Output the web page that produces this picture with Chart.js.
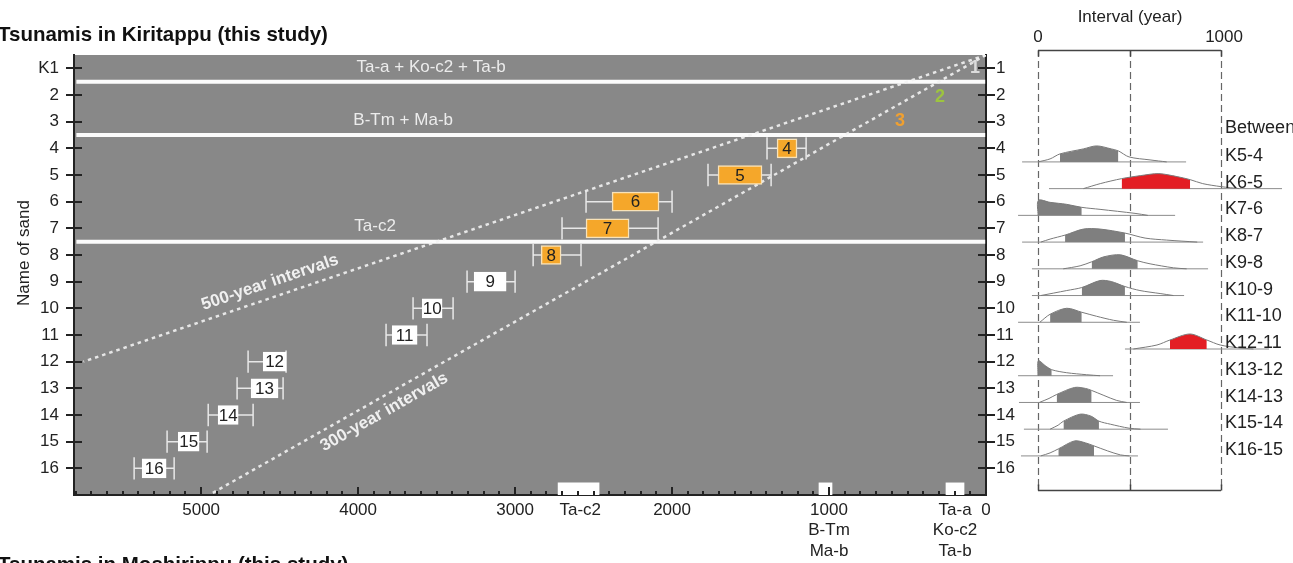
<!DOCTYPE html>
<html>
<head>
<meta charset="utf-8">
<script src="https://cdn.jsdelivr.net/npm/chart.js@4.4.1/dist/chart.umd.min.js"></script>
<style>
  html, body { margin: 0; padding: 0; background: #fff; overflow: hidden; }
  #wrap { position: relative; width: 1293px; height: 563px; }
  #main { position: absolute; left: 0; top: 0; }
  #interval { position: absolute; left: 1010px; top: 0; }
</style>
</head>
<body>
<div id="wrap">
  <canvas id="main" width="1020" height="563"></canvas>
  <canvas id="interval" width="283" height="563"></canvas>
</div>
<script>
// ---- data: sand layers (age, years before present) ----
const sandRows = [1, 2, 3, 4, 5, 6, 7, 8, 9, 10, 11, 12, 13, 14, 15, 16];
const sandLabels = ["K1", "2", "3", "4", "5", "6", "7", "8", "9", "10", "11", "12", "13", "14", "15", "16"];

const boxRows = [4, 5, 6, 7, 8, 9, 10, 11, 12, 13, 14, 15, 16];
const boxOlder = [1331, 1707, 2382, 2548, 2834, 3261, 3592, 3783, 4605, 4682, 4892, 5146, 5376];
const boxYounger = [1204, 1427, 2083, 2274, 2707, 3057, 3465, 3624, 4459, 4510, 4764, 5013, 5223];
const whiskerOlder = [1395, 1771, 2548, 2701, 2885, 3306, 3650, 3822, 4701, 4771, 4955, 5217, 5427];
const whiskerYounger = [1146, 1369, 2000, 2089, 2580, 3000, 3395, 3561, 4459, 4478, 4669, 4962, 5172];
const boxDated = [true, true, true, true, true, false, false, false, false, false, false, false, false];

// tephra layers
const tephraNames = ["Ta-c2", "B-Tm", "Ta-a"];
const tephraOlder = [2726, 1064, 255];
const tephraYounger = [2465, 981, 140];
const tephraLevels = [1.5, 3.5, 7.5];

// x axis tick labels
const xTickValues = [5000, 4000, 3000, 2585, 2000, 1000, 197, 0];
const xTickLabels = ["5000", "4000", "3000", "Ta-c2", "2000", ["1000", "B-Tm", "Ma-b"], ["Ta-a", "Ko-c2", "Ta-b"], "0"];

// reference recurrence lines
const line500 = [[0, 0.5], [5750, 12.0]];
const line300 = [[0, 0.5], [4941, 16.97]];

// ---- data: interval distributions ----
const intervalNames = ["K5-4", "K6-5", "K7-6", "K8-7", "K9-8", "K10-9", "K11-10", "K12-11", "K13-12", "K14-13", "K15-14", "K16-15"];
const intervalRows = [4.5, 5.5, 6.5, 7.5, 8.5, 9.5, 10.5, 11.5, 12.5, 13.5, 14.5, 15.5];
const intervalCurves = [
  [[0, 0], [66, 3], [120, 8], [248, 13], [320, 16], [400, 13], [439, 11], [497, 5], [612, 2], [703, 0]],
  [[248, 0], [340, 5], [457, 10], [560, 13], [660, 15], [760, 12], [831, 9], [900, 5], [1000, 2], [1100, 0]],
  [[0, 0], [2, 15], [66, 13], [157, 11], [239, 8], [339, 6], [530, 2], [600, 0]],
  [[15, 0], [66, 3], [148, 7], [248, 13], [339, 13], [475, 9], [585, 4], [703, 2], [870, 0]],
  [[138, 0], [230, 3], [293, 7], [360, 12], [450, 14], [545, 8], [612, 5], [740, 1], [812, 0]],
  [[15, 0], [157, 5], [239, 8], [339, 15], [400, 14], [475, 9], [557, 5], [667, 2], [740, 0]],
  [[10, 0], [66, 8], [157, 14], [239, 10], [320, 6], [412, 2], [485, 0]],
  [[521, 0], [650, 4], [721, 9], [830, 15], [922, 9], [995, 4], [1104, 1], [1177, 0]],
  [[0, 0], [2, 15], [40, 10], [75, 6], [157, 3], [266, 1], [339, 0]],
  [[7, 0], [60, 4], [102, 8], [200, 15], [260, 14], [293, 12], [360, 7], [430, 2], [485, 0]],
  [[66, 0], [110, 4], [139, 8], [230, 15], [290, 13], [333, 8], [395, 5], [497, 1], [560, 0]],
  [[15, 0], [66, 3], [111, 7], [200, 15], [260, 13], [306, 10], [380, 5], [450, 1], [500, 0]]
];
const intervalShade = [[120, 439], [457, 831], [0, 239], [148, 475], [293, 545], [239, 475], [66, 239], [721, 922], [0, 75], [102, 293], [139, 333], [111, 306]];
const intervalBase = [[-87, 809], [60, 1333], [-109, 749], [-87, 902], [-33, 929], [-33, 798], [-109, 557], [475, 1262], [-109, 410], [-104, 557], [-77, 710], [-93, 546]];
const intervalLong = [false, true, false, false, false, false, false, true, false, false, false, false];

const FONT = "'Liberation Sans', Arial, Helvetica, sans-serif";
Chart.defaults.font.family = FONT;

// ---- main chart ----
const capHalf = 0.42;
const whiskerPts = [];
boxRows.forEach(function (r, i) {
  const a = whiskerOlder[i], b = whiskerYounger[i];
  whiskerPts.push({ x: a, y: r - capHalf }, { x: a, y: r + capHalf }, { x: a, y: null });
  whiskerPts.push({ x: a, y: r }, { x: b, y: r }, { x: b, y: null });
  whiskerPts.push({ x: b, y: r - capHalf }, { x: b, y: r + capHalf }, { x: b, y: null });
});

const levelPts = [];
tephraLevels.forEach(function (lv) {
  levelPts.push({ x: 5795, y: lv }, { x: 5, y: lv }, { x: 5, y: null });
});

const mainDecor = {
  id: "mainDecor",
  beforeDraw(chart) {
    const a = chart.chartArea, ctx = chart.ctx;
    ctx.save();
    ctx.fillStyle = "#888888";
    ctx.fillRect(a.left, a.top, a.right - a.left, a.bottom - a.top);
    ctx.restore();
  },
  afterDatasetsDraw(chart) {
    const ctx = chart.ctx, xs = chart.scales.x, ys = chart.scales.y;
    ctx.save();
    ctx.textAlign = "center";
    ctx.textBaseline = "middle";

    // numbers in boxes
    ctx.font = "17px " + FONT;
    ctx.fillStyle = "#222";
    boxRows.forEach(function (r, i) {
      const cx = xs.getPixelForValue((boxOlder[i] + boxYounger[i]) / 2);
      ctx.fillText(String(r), cx, ys.getPixelForValue(r) + 1);
    });

    // tephra names in the plot
    ctx.font = "17px " + FONT;
    ctx.fillStyle = "#ececec";
    [["Ta-a + Ko-c2 + Ta-b", 3535, 0.97], ["B-Tm + Ma-b", 3713, 2.96], ["Ta-c2", 3892, 6.93]].forEach(function (t) {
      ctx.fillText(t[0], xs.getPixelForValue(t[1]), ys.getPixelForValue(t[2]));
    });

    // K1-K3 markers
    ctx.font = "bold 18px " + FONT;
    [["1", 70, 0.99, "#dcdcdc"], ["2", 293, 2.07, "#9dc43f"], ["3", 548, 2.97, "#f0a030"]].forEach(function (t) {
      ctx.fillStyle = t[3];
      ctx.fillText(t[0], xs.getPixelForValue(t[1]), ys.getPixelForValue(t[2]));
    });

    // rotated line labels
    ctx.font = "bold 17px " + FONT;
    ctx.fillStyle = "#f0f0f0";
    [["500-year intervals", line500, 4561, 9.03], ["300-year intervals", line300, 3834, 13.89]].forEach(function (t) {
      const p0 = t[1][0], p1 = t[1][1];
      const ang = Math.atan2(ys.getPixelForValue(p1[1]) - ys.getPixelForValue(p0[1]),
                             xs.getPixelForValue(p1[0]) - xs.getPixelForValue(p0[0]));
      ctx.save();
      ctx.translate(xs.getPixelForValue(t[2]), ys.getPixelForValue(t[3]));
      ctx.rotate(ang + Math.PI);
      ctx.fillText(t[0], 0, 0);
      ctx.restore();
    });
    ctx.restore();
  },
  afterDraw(chart) {
    const ctx = chart.ctx, xs = chart.scales.x, ys = chart.scales.y, a = chart.chartArea;
    ctx.save();
    ctx.strokeStyle = "#222";
    ctx.lineWidth = 2;
    ctx.beginPath();
    for (let v = 0; v <= 5800; v += 100) {
      const px = Math.round(xs.getPixelForValue(v));
      const len = v % 1000 === 0 ? 8 : 4;
      ctx.moveTo(px, a.bottom);
      ctx.lineTo(px, a.bottom - len);
    }
    sandRows.forEach(function (r) {
      const py = Math.round(ys.getPixelForValue(r));
      ctx.moveTo(a.left - 8, py);
      ctx.lineTo(a.left + 8, py);
      ctx.moveTo(a.right - 8, py);
      ctx.lineTo(a.right + 9, py);
    });
    ctx.stroke();

    // titles
    ctx.fillStyle = "#111";
    ctx.textAlign = "left";
    ctx.textBaseline = "alphabetic";
    ctx.font = "bold 20.5px " + FONT;
    ctx.fillText("Tsunamis in Kiritappu (this study)", -2, 41);
    ctx.fillText("Tsunamis in Moshirippu (this study)", -2, 571);

    // y axis title
    ctx.save();
    ctx.translate(24, 253);
    ctx.rotate(-Math.PI / 2);
    ctx.textAlign = "center";
    ctx.textBaseline = "middle";
    ctx.font = "17px " + FONT;
    ctx.fillStyle = "#222";
    ctx.fillText("Name of sand", 0, 0);
    ctx.restore();
    ctx.restore();
  }
};

new Chart(document.getElementById("main").getContext("2d"), {
  type: "bar",
  data: {
    datasets: [
      {
        type: "bar",
        indexAxis: "y",
        grouped: false,
        data: boxRows.map(function (r, i) { return { y: r, x: [boxOlder[i], boxYounger[i]] }; }),
        backgroundColor: boxDated.map(function (d) { return d ? "#f5a72a" : "#ffffff"; }),
        borderColor: boxDated.map(function (d) { return d ? "#f8e2b8" : "#ffffff"; }),
        borderWidth: 1.5,
        borderSkipped: false,
        barThickness: 19,
        order: 0
      },
      {
        type: "bar",
        indexAxis: "y",
        grouped: false,
        data: tephraNames.map(function (n, i) { return { y: 16.77, x: [tephraOlder[i], tephraYounger[i]] }; }),
        backgroundColor: "#ffffff",
        borderWidth: 0,
        barThickness: 12,
        order: 1
      },
      {
        type: "line",
        data: whiskerPts,
        borderColor: "#e8e8e8",
        borderWidth: 1.5,
        pointRadius: 0,
        spanGaps: false,
        fill: false,
        order: 2
      },
      {
        type: "line",
        data: line500.map(function (p) { return { x: p[0], y: p[1] }; }),
        borderColor: "rgba(242,242,242,0.9)",
        borderWidth: 2.5,
        borderDash: [3.5, 4],
        pointRadius: 0,
        fill: false,
        order: 3
      },
      {
        type: "line",
        data: line300.map(function (p) { return { x: p[0], y: p[1] }; }),
        borderColor: "rgba(242,242,242,0.9)",
        borderWidth: 2.5,
        borderDash: [3.5, 4],
        pointRadius: 0,
        fill: false,
        order: 3
      },
      {
        type: "line",
        data: levelPts,
        borderColor: "#fbfbfb",
        borderWidth: 4,
        pointRadius: 0,
        spanGaps: false,
        fill: false,
        order: 4
      }
    ]
  },
  options: {
    responsive: false,
    animation: false,
    events: [],
    layout: { padding: { top: 55, left: 0, right: 0, bottom: 0 } },
    plugins: { legend: { display: false }, tooltip: { enabled: false } },
    scales: {
      x: {
        type: "linear",
        offset: false,
        min: 0,
        max: 5810,
        reverse: true,
        afterBuildTicks: function (s) { s.ticks = xTickValues.map(function (v) { return { value: v }; }); },
        afterFit: function (s) { s.height = 68; },
        grid: { display: false, drawTicks: false, offset: false },
        border: { display: true, color: "#222", width: 2 },
        ticks: {
          autoSkip: false,
          maxRotation: 0,
          padding: 5,
          color: "#222",
          font: { size: 17 },
          callback: function (v) { return xTickLabels[xTickValues.indexOf(v)]; }
        }
      },
      y: {
        type: "linear",
        position: "left",
        offset: false,
        min: 0.5,
        max: 17,
        reverse: true,
        afterBuildTicks: function (s) { s.ticks = sandRows.map(function (v) { return { value: v }; }); },
        afterFit: function (s) { s.width = 74; },
        grid: { display: false, drawTicks: false, offset: false },
        border: { display: true, color: "#222", width: 2 },
        ticks: {
          padding: 15,
          color: "#222",
          font: { size: 17 },
          callback: function (v) { return sandLabels[sandRows.indexOf(v)]; }
        }
      },
      y2: {
        type: "linear",
        position: "right",
        offset: false,
        min: 0.5,
        max: 17,
        reverse: true,
        afterBuildTicks: function (s) { s.ticks = sandRows.map(function (v) { return { value: v }; }); },
        afterFit: function (s) { s.width = 34; },
        grid: { display: false, drawTicks: false, offset: false },
        border: { display: true, color: "#222", width: 2 },
        ticks: {
          padding: 10,
          color: "#222",
          font: { size: 17 },
          callback: function (v) { return String(v); }
        }
      }
    }
  },
  plugins: [mainDecor]
});

// ---- interval chart ----
const ROW_PER_DENSITY = 1 / 26.7;
const intervalSets = [];
intervalRows.forEach(function (row, i) {
  const toPt = function (p) { return { x: p[0], y: row - p[1] * ROW_PER_DENSITY }; };
  const lo = intervalShade[i][0], hi = intervalShade[i][1];
  intervalSets.push({
    data: intervalBase[i].map(function (x) { return { x: x, y: row }; }),
    borderColor: "#8c8c8c", borderWidth: 1, pointRadius: 0, fill: false, order: 3
  });
  intervalSets.push({
    data: intervalCurves[i].filter(function (p) { return p[0] >= lo && p[0] <= hi; }).map(toPt),
    borderWidth: 0, pointRadius: 0, tension: 0.3,
    backgroundColor: intervalLong[i] ? "#e31e24" : "#7f7f7f",
    fill: { value: row }, order: 2
  });
  intervalSets.push({
    data: intervalCurves[i].map(toPt),
    borderColor: "#7a7a7a", borderWidth: 1, pointRadius: 0, tension: 0.3, fill: false, order: 1
  });
});

const intervalDecor = {
  id: "intervalDecor",
  beforeDatasetsDraw(chart) {
    const ctx = chart.ctx, xs = chart.scales.x, ys = chart.scales.y;
    ctx.save();
    ctx.strokeStyle = "#666";
    ctx.lineWidth = 1.2;
    ctx.setLineDash([7, 4]);
    ctx.beginPath();
    [0, 500, 1000].forEach(function (v) {
      const px = Math.round(xs.getPixelForValue(v)) + 0.5;
      ctx.moveTo(px, ys.getPixelForValue(0.31));
      ctx.lineTo(px, ys.getPixelForValue(16.77));
    });
    ctx.stroke();
    ctx.restore();
  },
  afterDraw(chart) {
    const ctx = chart.ctx, xs = chart.scales.x, ys = chart.scales.y;
    const yTop = Math.round(ys.getPixelForValue(0.31)) + 0.5;
    const yBot = Math.round(ys.getPixelForValue(16.77)) + 0.5;
    const x0 = xs.getPixelForValue(0), x1 = xs.getPixelForValue(1000);
    ctx.save();
    ctx.strokeStyle = "#444";
    ctx.lineWidth = 1.5;
    ctx.beginPath();
    ctx.moveTo(x0, yTop); ctx.lineTo(x1, yTop);
    ctx.moveTo(x0, yBot); ctx.lineTo(x1, yBot);
    [0, 500, 1000].forEach(function (v) {
      const px = Math.round(xs.getPixelForValue(v)) + 0.5;
      ctx.moveTo(px, yTop); ctx.lineTo(px, yTop + 6);
      ctx.moveTo(px, yBot); ctx.lineTo(px, yBot - 6);
    });
    ctx.stroke();

    ctx.fillStyle = "#222";
    ctx.textAlign = "center";
    ctx.textBaseline = "middle";
    ctx.font = "17px " + FONT;
    ctx.fillText("0", x0, ys.getPixelForValue(-0.17));
    ctx.fillText("1000", x1 + 3, ys.getPixelForValue(-0.17));
    ctx.fillText("Interval (year)", xs.getPixelForValue(503), ys.getPixelForValue(-0.92));

    ctx.textAlign = "left";
    ctx.font = "18px " + FONT;
    const lx = xs.getPixelForValue(1022);
    ctx.fillText("Between", lx, ys.getPixelForValue(3.23));
    intervalNames.forEach(function (n, i) {
      ctx.fillText(n, lx, ys.getPixelForValue(intervalRows[i] - 0.22));
    });
    ctx.restore();
  }
};

new Chart(document.getElementById("interval").getContext("2d"), {
  type: "line",
  data: { datasets: intervalSets },
  options: {
    responsive: false,
    animation: false,
    events: [],
    layout: { padding: { top: 55, left: 0, right: 0, bottom: 67 } },
    plugins: { legend: { display: false }, tooltip: { enabled: false } },
    scales: {
      x: { type: "linear", min: -153, max: 1393, display: false },
      y: { type: "linear", min: 0.5, max: 17, reverse: true, display: false }
    }
  },
  plugins: [intervalDecor]
});
</script>
</body>
</html>
